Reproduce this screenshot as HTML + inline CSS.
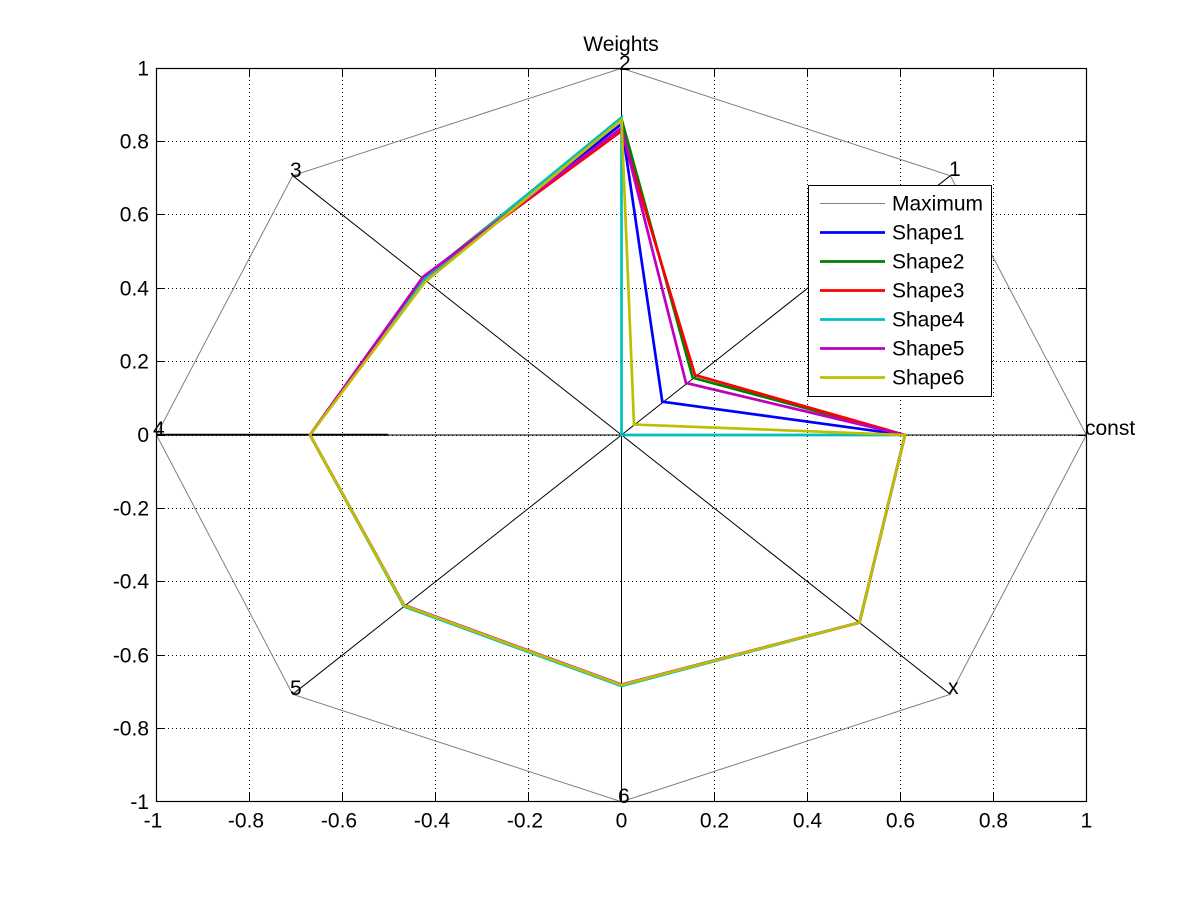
<!DOCTYPE html>
<html><head><meta charset="utf-8"><style>
html,body{margin:0;padding:0;background:#fff;}
svg{display:block;}
text{font-family:"Liberation Sans",Arial,sans-serif;font-size:21px;fill:#000;}
</style></head><body>
<svg width="1201" height="901" viewBox="0 0 1201 901" xmlns="http://www.w3.org/2000/svg">
<rect x="0" y="0" width="1201" height="901" fill="#fff"/>
<rect x="156.5" y="68.5" width="930" height="733" fill="#fff"/>
<!-- grid -->
<g stroke="#000" stroke-width="1" stroke-dasharray="1,3" fill="none">
<line x1="249.5" y1="68" x2="249.5" y2="802"/>
<line x1="342.5" y1="68" x2="342.5" y2="802"/>
<line x1="435.5" y1="68" x2="435.5" y2="802"/>
<line x1="528.5" y1="68" x2="528.5" y2="802"/>
<line x1="621.5" y1="68" x2="621.5" y2="802"/>
<line x1="714.5" y1="68" x2="714.5" y2="802"/>
<line x1="807.5" y1="68" x2="807.5" y2="802"/>
<line x1="900.5" y1="68" x2="900.5" y2="802"/>
<line x1="993.5" y1="68" x2="993.5" y2="802"/>
<line x1="156" y1="141.5" x2="1087" y2="141.5"/>
<line x1="156" y1="214.5" x2="1087" y2="214.5"/>
<line x1="156" y1="288.5" x2="1087" y2="288.5"/>
<line x1="156" y1="361.5" x2="1087" y2="361.5"/>
<line x1="156" y1="435.5" x2="1087" y2="435.5"/>
<line x1="156" y1="508.5" x2="1087" y2="508.5"/>
<line x1="156" y1="581.5" x2="1087" y2="581.5"/>
<line x1="156" y1="655.5" x2="1087" y2="655.5"/>
<line x1="156" y1="728.5" x2="1087" y2="728.5"/>
</g>
<!-- ticks -->
<g stroke="#000" stroke-width="1">
<path d="M249.5 68v9M342.5 68v9M435.5 68v9M528.5 68v9M621.5 68v9M714.5 68v9M807.5 68v9M900.5 68v9M993.5 68v9"/>
<path d="M249.5 802v-9M342.5 802v-9M435.5 802v-9M528.5 802v-9M621.5 802v-9M714.5 802v-9M807.5 802v-9M900.5 802v-9M993.5 802v-9"/>
<path d="M156 141.5h9M156 214.5h9M156 288.5h9M156 361.5h9M156 435.5h9M156 508.5h9M156 581.5h9M156 655.5h9M156 728.5h9"/>
<path d="M1087 141.5h-9M1087 214.5h-9M1087 288.5h-9M1087 361.5h-9M1087 435.5h-9M1087 508.5h-9M1087 581.5h-9M1087 655.5h-9M1087 728.5h-9"/>
</g>
<!-- maximum polygon -->
<polygon points="1086.3,435 950.3,175.7 621.5,68.3 292.7,175.7 156.5,435 292.7,694.3 621.5,801.7 950.3,694.3" fill="none" stroke="#7f7f7f" stroke-width="1"/>
<!-- spokes -->
<g stroke="#000" stroke-width="1">
<line x1="621.5" y1="435" x2="1086.3" y2="435"/>
<line x1="621.5" y1="435" x2="950.3" y2="175.7"/>
<line x1="621.5" y1="435" x2="621.5" y2="68.3"/>
<line x1="621.5" y1="435" x2="292.7" y2="175.7"/>
<line x1="621.5" y1="435" x2="156.5" y2="435"/>
<line x1="621.5" y1="435" x2="292.7" y2="694.3"/>
<line x1="621.5" y1="435" x2="621.5" y2="801.7"/>
<line x1="621.5" y1="435" x2="950.3" y2="694.3"/>
</g>
<line x1="157" y1="434.8" x2="388" y2="434.8" stroke="#000" stroke-width="2"/>
<!-- shapes -->
<g fill="none" stroke-width="2.7" stroke-linejoin="miter">
<polygon stroke="#0000ff" points="905,435 662.3,401.7 621.5,124 424,279 310,435 404,605.5 621.5,685 859.5,622.5"/>
<polygon stroke="#008000" points="905,435 692.7,377.7 621.5,119 423.5,278 310,435 404,605.5 621.5,685 859.5,622.5"/>
<polygon stroke="#ff0000" points="905,435 695,375 621.5,131 423,277 310,435 404,605.5 621.5,685 859.5,622.5"/>
<polygon stroke="#00bfbf" points="905,435 621.5,435 621.5,117.5 424,279 310,435 404,606.5 621.5,686 859.5,622.5"/>
<polygon stroke="#bf00bf" points="905,435 686,383 621.5,128 423,277 310,435 404,605 621.5,684.5 859.5,622.5"/>
<polygon stroke="#bfbf00" points="905,435 634,424.5 621.5,120 425,282 310,435 404,605.5 621.5,685 859.5,622.5"/>
</g>
<!-- axes box -->
<rect x="156.5" y="68.5" width="930" height="733" fill="none" stroke="#000" stroke-width="1.2"/>
<!-- axis labels on radar -->
<text x="1085" y="435">const</text>
<text x="949" y="176">1</text>
<text x="619" y="70">2</text>
<text x="290" y="177">3</text>
<text x="153" y="436">4</text>
<text x="290" y="695">5</text>
<text x="618" y="803">6</text>
<text x="948" y="694">x</text>
<!-- title -->
<text x="621" y="51" text-anchor="middle">Weights</text>
<!-- y tick labels -->
<g text-anchor="end">
<text x="149" y="75.5">1</text>
<text x="149" y="148.5">0.8</text>
<text x="149" y="221.5">0.6</text>
<text x="149" y="295.5">0.4</text>
<text x="149" y="368.5">0.2</text>
<text x="149" y="442">0</text>
<text x="149" y="515.5">-0.2</text>
<text x="149" y="588.5">-0.4</text>
<text x="149" y="662.5">-0.6</text>
<text x="149" y="735.5">-0.8</text>
<text x="149" y="809">-1</text>
</g>
<!-- x tick labels -->
<g text-anchor="middle">
<text x="153" y="827.5">-1</text>
<text x="246" y="827.5">-0.8</text>
<text x="339" y="827.5">-0.6</text>
<text x="432" y="827.5">-0.4</text>
<text x="525" y="827.5">-0.2</text>
<text x="621.5" y="827.5">0</text>
<text x="714.5" y="827.5">0.2</text>
<text x="807.5" y="827.5">0.4</text>
<text x="900.5" y="827.5">0.6</text>
<text x="993.5" y="827.5">0.8</text>
<text x="1086.5" y="827.5">1</text>
</g>
<!-- legend -->
<rect x="808.5" y="185.5" width="183" height="211" fill="#fff" stroke="#000" stroke-width="1"/>
<line x1="820" y1="203.5" x2="885" y2="203.5" stroke="#7f7f7f" stroke-width="1"/>
<line x1="820" y1="232.5" x2="885" y2="232.5" stroke="#0000ff" stroke-width="2.8"/>
<line x1="820" y1="261.5" x2="885" y2="261.5" stroke="#008000" stroke-width="2.8"/>
<line x1="820" y1="290.5" x2="885" y2="290.5" stroke="#ff0000" stroke-width="2.8"/>
<line x1="820" y1="319.5" x2="885" y2="319.5" stroke="#00bfbf" stroke-width="2.8"/>
<line x1="820" y1="348.5" x2="885" y2="348.5" stroke="#bf00bf" stroke-width="2.8"/>
<line x1="820" y1="377.5" x2="885" y2="377.5" stroke="#bfbf00" stroke-width="2.8"/>
<text x="892" y="210.5">Maximum</text>
<text x="892" y="239.5">Shape1</text>
<text x="892" y="268.5">Shape2</text>
<text x="892" y="297.5">Shape3</text>
<text x="892" y="326.5">Shape4</text>
<text x="892" y="355.5">Shape5</text>
<text x="892" y="384.5">Shape6</text>
</svg>
</body></html>
